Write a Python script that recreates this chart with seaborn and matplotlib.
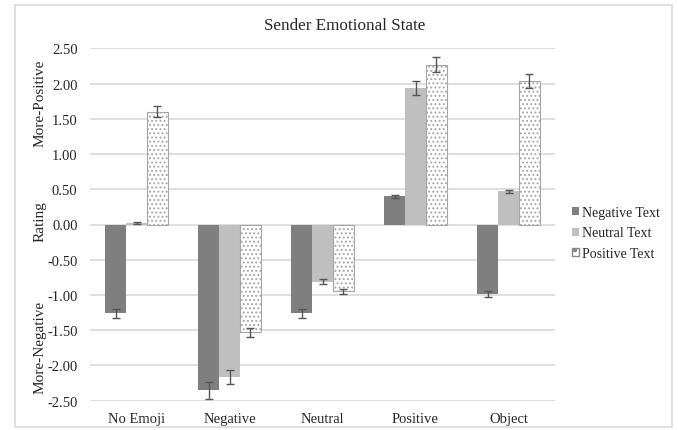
import matplotlib
matplotlib.use("Agg")
import matplotlib.pyplot as plt
import matplotlib.patches as mpatches
import numpy as np
import pandas as pd
import seaborn as sns

emoji = ["No Emoji", "Negative", "Neutral", "Positive", "Object"]
text_types = ["Negative Text", "Neutral Text", "Positive Text"]
neg_text = [-1.26, -2.35, -1.26, 0.40, -0.99]
neu_text = [0.02, -2.16, -0.81, 1.94, 0.47]
pos_text = [1.60, -1.53, -0.95, 2.27, 2.04]
neg_err = [0.06, 0.12, 0.06, 0.02, 0.04]
neu_err = [0.01, 0.10, 0.04, 0.10, 0.02]
pos_err = [0.08, 0.06, 0.04, 0.11, 0.10]

rows = []
for t, vals, errs in zip(text_types, [neg_text, neu_text, pos_text], [neg_err, neu_err, pos_err]):
    for e, v, s in zip(emoji, vals, errs):
        rows.append({"emoji": e, "text": t, "rating": v, "err": s})
df = pd.DataFrame(rows)

sns.set_theme(style="white")
plt.rcParams["font.family"] = ["Liberation Serif", "DejaVu Serif"]
plt.rcParams["hatch.color"] = "#555555"
plt.rcParams["hatch.linewidth"] = 0.9

fig = plt.figure(figsize=(6.78, 4.31), dpi=100)
ax = fig.add_axes([90 / 678, 1 - 401.7 / 431, 465 / 678, 352.4 / 431])

palette = {"Negative Text": "#7f7f7f", "Neutral Text": "#bfbfbf", "Positive Text": "white"}
sns.barplot(data=df, x="emoji", y="rating", hue="text", order=emoji, hue_order=text_types,
            palette=palette, errorbar=None, width=0.67, ax=ax, legend=False, zorder=3)

# style bars + error bars
for cont, t in zip(ax.containers, text_types):
    sub = df[df["text"] == t].set_index("emoji").loc[emoji]
    for bar, v, s in zip(cont, sub["rating"], sub["err"]):
        if t == "Positive Text":
            bar.set_hatch("....")
            bar.set_edgecolor("#a6a6a6")
            bar.set_linewidth(0.8)
        else:
            bar.set_edgecolor("none")
        cx = bar.get_x() + bar.get_width() / 2
        ax.errorbar(cx, v, yerr=s, fmt="none", ecolor="#555555", elinewidth=1,
                    capsize=3, capthick=1, zorder=4)

ticks = np.arange(-2.5, 2.51, 0.5)
ax.set_ylim(-2.5, 2.5)
ax.set_yticks(ticks)
ax.set_yticklabels(["%.2f" % v for v in ticks], fontsize=10.5)
ax.tick_params(axis="x", labelsize=10.5, length=0, pad=8)
ax.tick_params(axis="y", length=0, pad=9)
ax.yaxis.grid(True, color="#d9d9d9", linewidth=1.2, zorder=0)
ax.set_axisbelow(True)
for sp in ax.spines.values():
    sp.set_visible(False)
ax.set_xlabel("")
ax.set_ylabel("")
ax.set_xlim(-0.5, 4.5)

fig.text(0.509, 1 - 26 / 431, "Sender Emotional State", ha="center", va="center", fontsize=12.3)

fig.text(40 / 678, 1 - 103 / 431, "More-Positive", rotation=90, ha="center", va="center", fontsize=11)
fig.text(40 / 678, 1 - 222 / 431, "Rating", rotation=90, ha="center", va="center", fontsize=11)
fig.text(40 / 678, 1 - 347 / 431, "More-Negative", rotation=90, ha="center", va="center", fontsize=11)

handles = [mpatches.Patch(facecolor="#7f7f7f", edgecolor="none"),
           mpatches.Patch(facecolor="#bfbfbf", edgecolor="none"),
           mpatches.Patch(facecolor="white", edgecolor="#888888", hatch=".")]
fig.legend(handles, text_types, loc="center left", bbox_to_anchor=(572 / 678, 1 - 234 / 431),
           frameon=False, fontsize=10, handlelength=0.5, handleheight=0.5,
           handletextpad=0.25, labelspacing=0.55, borderaxespad=0, borderpad=0)

border = mpatches.Rectangle((15 / 678, 3 / 431), 657 / 678, 422 / 431, transform=fig.transFigure,
                            fill=False, edgecolor="#d9d9d9", linewidth=1.2)
fig.patches.append(border)

fig.savefig("out.png", dpi=100)
